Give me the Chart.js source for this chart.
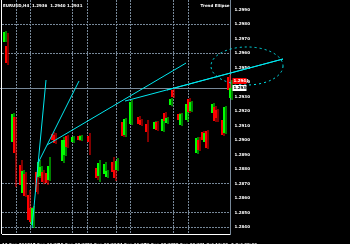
<!DOCTYPE html>
<html>
<head>
<meta charset="utf-8">
<script src="https://cdn.jsdelivr.net/npm/chart.js@4"></script>
<style>
  html, body { margin: 0; padding: 0; background: #000; }
  #wrap { width: 350px; height: 244px; }
  canvas { background: #000; }
</style>
</head>
<body>
<div id="wrap"><canvas id="chart" width="350" height="244"></canvas></div>
<script>
// H4 candles, x = bar slot
const bars   = [1, 2, 5, 6, 9, 10, 11, 13, 14, 15, 17, 18, 19, 20, 22, 23, 25, 26, 30, 31, 32, 35, 38, 39, 43,
                47, 48, 51, 52, 55, 56, 57, 60, 61, 64, 68, 69, 72, 76, 77, 80, 81, 82, 84, 85, 88, 89,
                92, 93, 94, 97, 98, 100, 101, 102, 105, 106, 107, 110, 111, 113, 114];
const opens  = [1.29676, 1.29649, 1.28986, 1.29159, 1.28828, 1.28634, 1.28765, 1.28621, 1.28531, 1.28414,
                1.28779, 1.28745, 1.28752, 1.28779, 1.28772, 1.28724, 1.29041, 1.29035, 1.28855, 1.28897,
                1.29028, 1.28986, 1.29028, 1.29000, 1.29028, 1.28807, 1.28752, 1.28765, 1.28745, 1.28848,
                1.28793, 1.28793, 1.29124, 1.29035, 1.29110, 1.29159, 1.29138, 1.29110, 1.29076, 1.29124,
                1.29062, 1.29186, 1.29117, 1.29241, 1.29345, 1.29179, 1.29104, 1.29138, 1.29283, 1.29200,
                1.28910, 1.29000, 1.29055, 1.28986, 1.29062, 1.29186, 1.29228, 1.29207, 1.29138, 1.29049,
                1.29435, 1.29290];
const highs  = [1.29752, 1.29738, 1.29186, 1.29159, 1.28862, 1.28793, 1.28779, 1.28655, 1.28538, 1.28545,
                1.28807, 1.28862, 1.28821, 1.28793, 1.28786, 1.28883, 1.29055, 1.29049, 1.29021, 1.29007,
                1.29035, 1.29028, 1.29035, 1.29035, 1.29049, 1.28821, 1.28862, 1.28848, 1.28793, 1.28883,
                1.28807, 1.28876, 1.29138, 1.29152, 1.29276, 1.29166, 1.29145, 1.29138, 1.29131, 1.29131,
                1.29152, 1.29193, 1.29159, 1.29290, 1.29359, 1.29186, 1.29186, 1.29255, 1.29290, 1.29269,
                1.29021, 1.29021, 1.29062, 1.29055, 1.29069, 1.29255, 1.29235, 1.29214, 1.29145, 1.29235,
                1.29449, 1.29414];
const lows   = [1.29676, 1.29517, 1.28986, 1.28676, 1.28676, 1.28621, 1.28607, 1.28434, 1.28427, 1.28393,
                1.28627, 1.28738, 1.28745, 1.28696, 1.28690, 1.28717, 1.28986, 1.28972, 1.28841, 1.28890,
                1.28945, 1.28979, 1.28993, 1.28993, 1.28897, 1.28724, 1.28710, 1.28752, 1.28738, 1.28745,
                1.28717, 1.28786, 1.29021, 1.29021, 1.29104, 1.29104, 1.29097, 1.28986, 1.29069, 1.29062,
                1.29055, 1.29124, 1.29110, 1.29234, 1.29290, 1.29131, 1.29097, 1.29124, 1.29186, 1.29193,
                1.28903, 1.28924, 1.28993, 1.28979, 1.28938, 1.29179, 1.29124, 1.29124, 1.29028, 1.29041,
                1.29338, 1.29276];
const closes = [1.29745, 1.29531, 1.29179, 1.28910, 1.28690, 1.28786, 1.28614, 1.28448, 1.28434, 1.28531,
                1.28641, 1.28848, 1.28814, 1.28710, 1.28703, 1.28821, 1.29000, 1.28979, 1.29000, 1.29000,
                1.28952, 1.29021, 1.29000, 1.29028, 1.28986, 1.28738, 1.28841, 1.28834, 1.28786, 1.28779,
                1.28738, 1.28855, 1.29028, 1.29145, 1.29262, 1.29110, 1.29104, 1.29055, 1.29124, 1.29069,
                1.29145, 1.29131, 1.29152, 1.29283, 1.29297, 1.29138, 1.29179, 1.29248, 1.29193, 1.29262,
                1.29014, 1.28931, 1.29000, 1.29049, 1.28945, 1.29248, 1.29131, 1.29152, 1.29035, 1.29228,
                1.29345, 1.29359];

// trend lines: [bar, price] -> [bar, price]
const trendLines = [
  [[14.5, 1.28393], [21.5, 1.29414]],
  [[17.5, 1.28841], [38, 1.29407]],
  [[22, 1.28966], [91.5, 1.29531]],
  [[61, 1.29269], [140, 1.29559]],
  [[82, 1.29345], [140, 1.29559]],
];
// ellipse: centre bar/price and radii
const ellipseCentre = [122, 1.29511];
const ellipseRadius = [18, 0.00131];

const bidPrice = 1.29359;
const askPrice = 1.29410;

// axes
const priceTicks = [1.2990, 1.2980, 1.2970, 1.2960, 1.2950, 1.2940, 1.2930, 1.2920,
                    1.2910, 1.2900, 1.2890, 1.2880, 1.2870, 1.2860, 1.2850, 1.2840];
const priceGrid  = [1.2980, 1.2960, 1.2870, 1.2850, 1.2840];
const timeTicks  = [-0.5, 13.5, 27.5, 42, 57, 70.5, 85, 99.5, 114];
const timeLabels = ["13 Sep 2012", "17 Sep 16:00", "19 Sep 08:00", "21 Sep 00:00", "24 Sep 16:00",
                    "26 Sep 08:00", "28 Sep 00:00", "1 Oct 16:00", "3 Oct 08:00"];
const timeGrid   = [6.8, 13.8, 34.8, 42.3, 56.9, 63.9, 85.4, 92.5];

const GRID = "#778899";
const UP = "#00ff00";
const DOWN = "#ff0000";
const LINE = "#00e8f0";
const FONT = { family: "DejaVu Sans", size: 4, weight: "bold" };

const candleColors = bars.map((b, i) => (closes[i] >= opens[i] ? UP : DOWN));

function noPad(scale) {
  scale.paddingTop = 0;
  scale.paddingBottom = 0;
  scale.paddingLeft = 0;
  scale.paddingRight = 0;
}

const mtDecor = {
  id: "mtDecor",
  beforeDatasetsDraw(chart) {
    const { ctx, chartArea, scales } = chart;
    const y = Math.round(scales.y.getPixelForValue(bidPrice)) + 0.5;
    ctx.save();
    ctx.strokeStyle = GRID;
    ctx.lineWidth = 1;
    ctx.beginPath();
    ctx.moveTo(0, y);
    ctx.lineTo(chartArea.right, y);
    ctx.stroke();
    ctx.restore();
  },
  afterDatasetsDraw(chart) {
    const { ctx, chartArea, scales } = chart;
    const xs = scales.x, ys = scales.y;
    ctx.save();

    // ellipse object
    const cx = xs.getPixelForValue(ellipseCentre[0]);
    const cy = ys.getPixelForValue(ellipseCentre[1]);
    const rx = Math.abs(xs.getPixelForValue(ellipseCentre[0] + ellipseRadius[0]) - cx);
    const ry = Math.abs(ys.getPixelForValue(ellipseCentre[1] + ellipseRadius[1]) - cy);
    ctx.strokeStyle = LINE;
    ctx.lineWidth = 1;
    ctx.setLineDash([2, 3]);
    ctx.beginPath();
    ctx.ellipse(cx, cy, rx, ry, 0, 0, Math.PI * 2);
    ctx.stroke();
    ctx.setLineDash([]);

    // left border
    ctx.fillStyle = "#ffffff";
    ctx.fillRect(1, 0, 1, chartArea.bottom);

    // price boxes
    ctx.font = "bold 4px 'DejaVu Sans'";
    ctx.textBaseline = "middle";
    ctx.textAlign = "left";
    const ay = Math.round(ys.getPixelForValue(askPrice));
    ctx.fillStyle = DOWN;
    ctx.fillRect(chartArea.right + 2, ay - 3, 14, 6);
    ctx.fillStyle = "#ffffff";
    ctx.fillText(askPrice.toFixed(4), chartArea.right + 3, ay);
    const by = Math.round(ys.getPixelForValue(bidPrice));
    ctx.fillStyle = "#ffffff";
    ctx.fillRect(chartArea.right + 2, by - 3, 14, 6);
    ctx.fillStyle = "#000000";
    ctx.fillText(bidPrice.toFixed(4), chartArea.right + 3, by);

    // header texts
    ctx.fillStyle = "#ffffff";
    ctx.fillText("EURUSD,H4  1.2936  1.2940 1.2931", 3, 5.5);
    ctx.textAlign = "right";
    ctx.fillText("Trend Ellipse", chartArea.right - 1, 5.5);
    ctx.restore();
  },
};

const lineSets = trendLines.map((seg) => ({
  type: "line",
  data: seg.map((p) => ({ x: p[0], y: p[1] })),
  borderColor: LINE,
  borderWidth: 1,
  pointRadius: 0,
  clip: false,
  xAxisID: "x",
}));

new Chart(document.getElementById("chart"), {
  type: "bar",
  data: {
    datasets: [
      ...lineSets,
      {
        label: "body",
        data: bars.map((b, i) => ({ x: b, y: [opens[i], closes[i]] })),
        backgroundColor: candleColors,
        barThickness: 2,
        inflateAmount: 0,
        borderWidth: 0,
        xAxisID: "x",
        clip: false,
      },
      {
        label: "wick",
        data: bars.map((b, i) => ({ x: b, y: [lows[i], highs[i]] })),
        backgroundColor: candleColors,
        barThickness: 1,
        inflateAmount: 0,
        borderWidth: 0,
        xAxisID: "xw",
        clip: false,
      },
    ],
  },
  options: {
    responsive: false,
    devicePixelRatio: 1,
    animation: false,
    events: [],
    layout: { padding: { left: 2, top: 0, right: 0, bottom: 0 } },
    plugins: { legend: { display: false }, tooltip: { enabled: false } },
    scales: {
      x: {
        type: "linear",
        position: "bottom",
        offset: false,
        min: -0.5,
        max: 113.75,
        grid: { display: false, offset: false },
        border: { display: true, color: "#ffffff", width: 1 },
        ticks: {
          color: "#ffffff",
          font: FONT,
          align: "start",
          padding: 1,
          maxRotation: 0,
          autoSkip: false,
          callback: (v, i) => timeLabels[i],
        },
        afterBuildTicks: (s) => { s.ticks = timeTicks.map((v) => ({ value: v })); },
        afterFit: (s) => { s.height = 10; noPad(s); },
      },
      xg: {
        type: "linear",
        position: "bottom",
        offset: false,
        min: -0.5,
        max: 113.75,
        grid: { color: GRID, drawTicks: false, offset: false },
        border: { display: false, dash: [2, 1] },
        ticks: { display: false },
        afterBuildTicks: (s) => { s.ticks = timeGrid.map((v) => ({ value: v })); },
        afterFit: (s) => { s.height = 0; noPad(s); },
      },
      xw: {
        type: "linear",
        display: false,
        offset: false,
        min: -0.75,
        max: 113.5,
      },
      y: {
        type: "linear",
        position: "right",
        min: 1.28352,
        max: 1.29966,
        grid: {
          color: (c) => (c.tick && priceGrid.includes(c.tick.value) ? GRID : "rgba(0,0,0,0)"),
          drawTicks: false,
        },
        border: { display: true, color: GRID, dash: [2, 1] },
        ticks: {
          color: "#ffffff",
          font: FONT,
          padding: 4,
          callback: (v) => v.toFixed(4),
        },
        afterBuildTicks: (s) => { s.ticks = priceTicks.map((v) => ({ value: v })); },
        afterFit: (s) => { s.width = 119.5; noPad(s); },
      },
    },
  },
  plugins: [mtDecor],
});
</script>
</body>
</html>
